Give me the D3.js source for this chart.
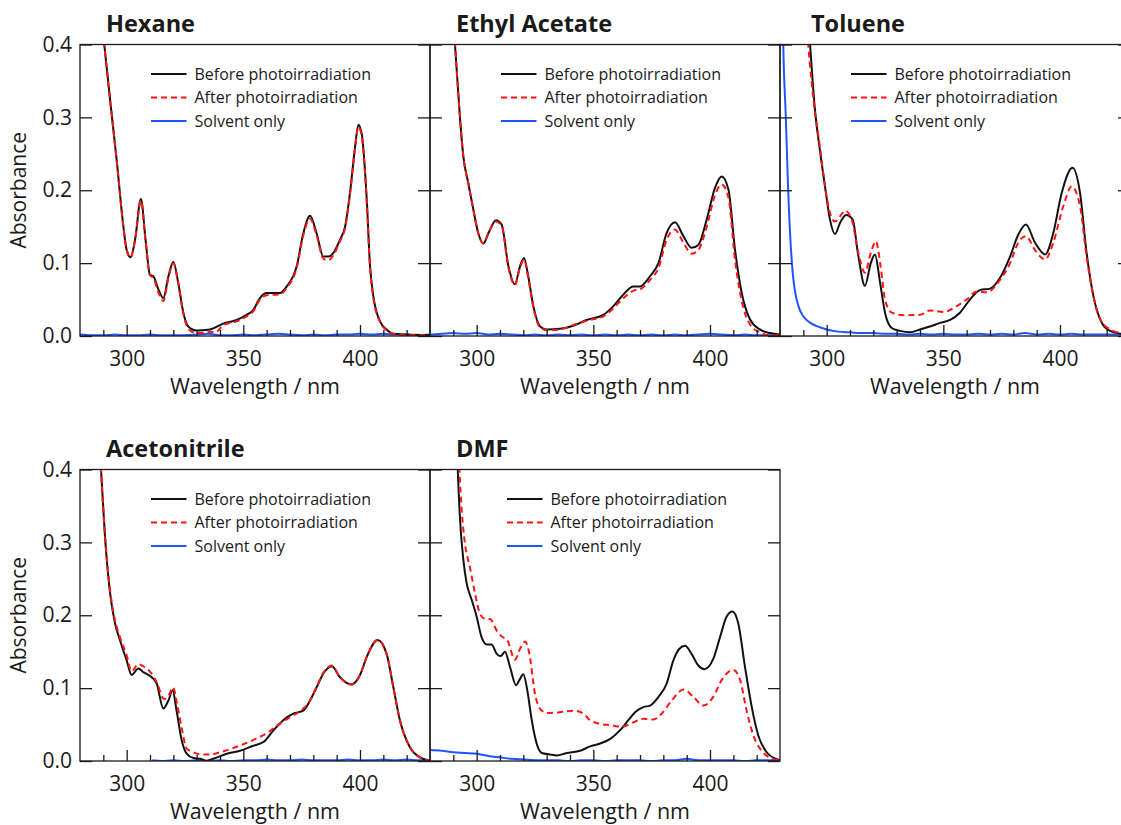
<!DOCTYPE html>
<html>
<head>
<meta charset="utf-8">
<script src="https://cdn.jsdelivr.net/npm/d3@7"></script>
<style>
  body { margin: 0; background: #fff; }
  text { font-family: "Open Sans", Lato, sans-serif; fill: #1a1a1a; }
</style>
</head>
<body>
<svg id="chart" width="1121" height="825"></svg>
<script>
// ---- data: [wavelength nm, absorbance] ----
var hexaneBefore = [[287,0.50],[290.4,0.40],[292.9,0.324],[295.7,0.242],[298.6,0.150],[300,0.118],[301.7,0.108],[303.6,0.132],[306.1,0.188],[308.1,0.132],[310,0.084],[311.4,0.082],[313.6,0.064],[315.7,0.052],[317.9,0.082],[320,0.102],[322.1,0.073],[324.3,0.032],[326.4,0.013],[330,0.0075],[335.7,0.009],[341.4,0.017],[347.1,0.022],[351.4,0.029],[354.3,0.036],[357.1,0.052],[360,0.059],[365.7,0.059],[368.6,0.068],[372.9,0.096],[375.7,0.141],[378.6,0.165],[381.4,0.141],[384.3,0.109],[386.4,0.109],[388.6,0.114],[391.4,0.132],[393.6,0.150],[395.7,0.196],[397.9,0.260],[399.3,0.290],[400.7,0.278],[402.9,0.187],[404.3,0.096],[405.7,0.055],[408.6,0.020],[411.4,0.009],[414.3,0.003],[420,0.002],[430,0.001]];
var hexaneAfter = [[287,0.50],[290.4,0.40],[292.9,0.324],[295.7,0.242],[298.6,0.150],[300,0.118],[301.7,0.108],[303.6,0.132],[306.1,0.186],[308.1,0.130],[310,0.083],[311.4,0.080],[313.6,0.060],[315.7,0.048],[317.9,0.080],[320,0.100],[322.1,0.072],[324.3,0.030],[326.4,0.010],[330,0.004],[333,0.004],[335.7,0.006],[338,0.005],[341.4,0.015],[347.1,0.020],[351.4,0.027],[354.3,0.034],[357.1,0.050],[360,0.056],[365.7,0.057],[368.6,0.066],[372.9,0.094],[375.7,0.138],[378.6,0.161],[381.4,0.138],[384.3,0.106],[386.4,0.104],[388.6,0.111],[391.4,0.130],[393.6,0.148],[395.7,0.194],[397.9,0.258],[399.3,0.287],[400.7,0.275],[402.9,0.184],[404.3,0.094],[405.7,0.053],[408.6,0.019],[411.4,0.008],[414.3,0.003],[420,0.001],[430,0.001]];
var hexaneSolvent = [[280,0.002],[285,0.001],[290,0.001],[295,0.002],[300,0.001],[305,0.001],[310,0.002],[315,0.001],[320,0.001],[325,0.001],[330,0.002],[335,0.003],[340,0.001],[345,0.001],[350,0.002],[355,0.001],[360,0.002],[365,0.003],[370,0.002],[375,0.001],[380,0.002],[385,0.001],[390,0.002],[395,0.002],[400,0.003],[405,0.002],[410,0.003],[415,0.002],[420,0.002],[425,0.001],[430,0.002]];

var ethylBefore = [[288,0.50],[290.7,0.40],[292.9,0.297],[294.3,0.246],[296.4,0.210],[298.6,0.173],[300.7,0.141],[302.9,0.127],[305,0.141],[308.3,0.159],[310.7,0.153],[313.6,0.096],[316.4,0.071],[318.6,0.096],[320.3,0.107],[322.1,0.082],[324.3,0.041],[327.1,0.0135],[330,0.009],[335.7,0.0098],[341.4,0.014],[347.1,0.022],[354.3,0.029],[358.6,0.041],[362.9,0.057],[367.1,0.068],[370,0.068],[374.3,0.082],[377.9,0.100],[381.4,0.141],[385,0.156],[388.6,0.137],[392.1,0.121],[395,0.125],[398.6,0.160],[402.1,0.203],[405,0.219],[407.9,0.201],[410.7,0.119],[413.6,0.059],[417.1,0.023],[421.4,0.009],[425.7,0.004],[430,0.002]];
var ethylAfter = [[288,0.50],[290.7,0.40],[292.9,0.297],[294.3,0.246],[296.4,0.210],[298.6,0.173],[300.7,0.141],[302.9,0.127],[305,0.141],[308.3,0.157],[310.7,0.151],[313.6,0.094],[316.4,0.070],[318.6,0.094],[320.3,0.105],[322.1,0.080],[324.3,0.039],[327.1,0.012],[330,0.008],[335.7,0.009],[341.4,0.015],[347.1,0.021],[354.3,0.027],[358.6,0.038],[362.9,0.052],[367.1,0.062],[370,0.064],[374.3,0.077],[377.9,0.093],[381.4,0.132],[385,0.146],[388.6,0.128],[392.1,0.113],[395,0.118],[398.6,0.150],[402.1,0.193],[405,0.208],[407.9,0.190],[410.7,0.105],[413.6,0.048],[417.1,0.016],[421.4,0.005],[425.7,0.001],[430,0.001]];
var ethylSolvent = [[280,0.002],[285,0.003],[290,0.004],[295,0.003],[300,0.004],[305,0.002],[310,0.003],[315,0.002],[320,0.001],[325,0.002],[330,0.001],[335,0.002],[340,0.001],[345,0.002],[350,0.001],[355,0.002],[360,0.001],[365,0.002],[370,0.001],[375,0.002],[380,0.001],[385,0.002],[390,0.001],[395,0.002],[400,0.003],[405,0.002],[410,0.001],[415,0.002],[420,0.001],[425,0.001],[430,0.001]];

var tolueneBefore = [[291,0.50],[292.9,0.40],[295,0.310],[297.1,0.255],[299.3,0.205],[301.4,0.160],[303.6,0.140],[305.7,0.155],[308.3,0.166],[311.1,0.160],[313.6,0.109],[316.4,0.069],[318.9,0.100],[320.7,0.112],[322.9,0.073],[325,0.032],[327.9,0.011],[331.4,0.007],[335.7,0.005],[340,0.009],[344.3,0.013],[348.6,0.018],[352.9,0.022],[357.1,0.032],[361.4,0.050],[365.7,0.063],[370,0.065],[374.3,0.080],[378.6,0.109],[382.1,0.139],[385.4,0.153],[389.3,0.128],[393.6,0.112],[397.1,0.141],[400.7,0.196],[405.4,0.231],[408.6,0.196],[411.4,0.114],[414.3,0.055],[417.9,0.018],[421.4,0.007],[426.1,0.003],[430,0.002]];
var tolueneAfter = [[290,0.50],[292.1,0.40],[294.5,0.32],[297.1,0.26],[299.3,0.205],[301.4,0.169],[303.6,0.157],[305.7,0.164],[307.9,0.172],[310.7,0.160],[313.6,0.114],[316.4,0.087],[318.9,0.114],[321.1,0.130],[323.1,0.096],[325,0.050],[327.9,0.032],[332.9,0.0285],[340,0.029],[344.3,0.035],[350,0.033],[355.7,0.041],[360,0.050],[364.3,0.061],[368.6,0.060],[374.3,0.077],[378.6,0.100],[382.1,0.128],[385.4,0.137],[389.3,0.118],[393.6,0.105],[397.1,0.128],[401.4,0.178],[405,0.205],[408.6,0.178],[411.4,0.109],[414.3,0.055],[418.6,0.016],[425.7,0.004],[430,0.002]];
var tolueneSolvent = [[280.5,0.60],[281.4,0.40],[282.5,0.30],[283.5,0.20],[284.5,0.13],[285.5,0.085],[286.5,0.060],[288,0.040],[290,0.027],[293,0.018],[297,0.012],[300,0.009],[305,0.006],[310,0.005],[315,0.004],[320,0.004],[325,0.003],[330,0.003],[335,0.002],[340,0.003],[345,0.002],[350,0.003],[355,0.002],[360,0.002],[365,0.003],[370,0.002],[375,0.003],[380,0.002],[385,0.004],[390,0.002],[395,0.003],[400,0.002],[405,0.003],[410,0.002],[415,0.002],[420,0.002],[425,0.002],[430,0.002]];

var acetoBefore = [[287.5,0.50],[289,0.40],[290.7,0.308],[292.9,0.230],[295,0.189],[297.1,0.166],[300,0.138],[302.1,0.118],[305,0.127],[307.1,0.122],[310.7,0.115],[312.9,0.106],[315.7,0.072],[317.9,0.083],[319.7,0.097],[321.4,0.069],[323.6,0.028],[325.7,0.010],[328.6,0.004],[331.4,0.003],[334.3,0.0005],[337.1,0.003],[342.9,0.010],[348.6,0.014],[354.3,0.021],[358.6,0.026],[362.9,0.042],[367.1,0.056],[371.4,0.065],[375.7,0.069],[378.6,0.083],[381.4,0.101],[384.3,0.120],[387.9,0.130],[391.4,0.115],[396.4,0.105],[400,0.118],[402.9,0.143],[407.6,0.166],[411.4,0.147],[414.3,0.101],[417.1,0.056],[421.4,0.019],[425.7,0.005],[429.3,0.001]];
var acetoAfter = [[287.5,0.50],[289,0.40],[290.7,0.310],[292.9,0.234],[295,0.193],[297.1,0.170],[300,0.145],[302.1,0.123],[305,0.133],[307.1,0.130],[310.7,0.120],[312.9,0.108],[316,0.085],[318,0.090],[319.9,0.101],[321.5,0.080],[323.6,0.045],[325.7,0.017],[328,0.013],[332,0.009],[336,0.009],[340,0.012],[345,0.017],[350,0.023],[355,0.030],[360,0.038],[365,0.050],[370,0.060],[375,0.070],[378.6,0.083],[381.4,0.102],[384.3,0.121],[387.9,0.131],[391.4,0.115],[396.4,0.105],[400,0.118],[402.9,0.143],[407.6,0.166],[411.4,0.147],[414.3,0.101],[417.1,0.056],[421.4,0.019],[425.7,0.005],[429.3,0.001]];
var acetoSolvent = [[311,0.001],[315,0.000],[320,0.001],[325,0.000],[330,0.001],[335,0.000],[340,0.001],[345,0.000],[350,0.001],[355,0.001],[360,0.002],[365,0.001],[370,0.001],[375,0.002],[380,0.001],[385,0.001],[390,0.001],[395,0.002],[400,0.001],[405,0.001],[410,0.002],[415,0.001],[420,0.002],[425,0.001],[430,0.001]];

var dmfBefore = [[291,0.50],[291.9,0.40],[292.9,0.330],[294.3,0.276],[295.7,0.244],[297.9,0.221],[300,0.198],[302.1,0.170],[304.3,0.160],[306.4,0.160],[308.6,0.147],[310.3,0.144],[312.1,0.150],[314.3,0.129],[316.9,0.104],[318.3,0.111],[320,0.119],[321.7,0.097],[323.6,0.056],[325.7,0.024],[327.9,0.011],[331.4,0.009],[334.3,0.0076],[338.6,0.011],[344.3,0.014],[348.6,0.020],[352.9,0.024],[357.1,0.030],[361.4,0.042],[365,0.056],[367.9,0.067],[371.4,0.074],[374.3,0.076],[377.9,0.088],[381.4,0.106],[384.3,0.138],[386.9,0.154],[389.3,0.158],[392.1,0.147],[395,0.131],[397.6,0.126],[401.4,0.140],[404.3,0.170],[407.1,0.198],[409.6,0.205],[412.1,0.189],[415,0.129],[417.9,0.074],[420.7,0.035],[424.3,0.012],[429.3,0.0016]];
var dmfAfter = [[291.5,0.50],[292.6,0.40],[293.6,0.344],[295,0.298],[297.1,0.266],[299.3,0.230],[301.4,0.202],[303.6,0.195],[305.7,0.195],[308.6,0.179],[310.7,0.171],[313.1,0.166],[316.4,0.139],[318.6,0.154],[320.7,0.164],[322.6,0.147],[325,0.092],[327.1,0.072],[330,0.066],[335.7,0.067],[341.4,0.069],[345.7,0.065],[348.6,0.056],[352.9,0.051],[357.9,0.049],[362.1,0.047],[367.1,0.053],[371.4,0.058],[375.7,0.057],[379.3,0.065],[383.6,0.083],[388.6,0.098],[392.9,0.088],[397.1,0.076],[401.4,0.088],[405,0.111],[410,0.125],[412.9,0.111],[415.7,0.069],[418.6,0.035],[422.1,0.014],[427.1,0.003],[429.7,0.001]];
var dmfSolvent = [[280,0.015],[285,0.014],[290,0.012],[295,0.011],[300,0.010],[305,0.007],[310,0.005],[315,0.003],[320,0.002],[325,0.001],[330,0.001],[335,0.001],[340,0.000],[345,0.001],[350,0.001],[355,0.000],[360,0.001],[365,0.001],[370,0.001],[375,0.000],[380,0.001],[385,0.001],[390,0.003],[395,0.001],[400,0.001],[405,0.001],[410,0.001],[415,0.000],[420,0.001],[425,0.001],[430,0.002]];

var panelTitles = ["Hexane", "Ethyl Acetate", "Toluene", "Acetonitrile", "DMF"];
var legendLabels = ["Before photoirradiation", "After photoirradiation", "Solvent only"];
var yTicks = [0, 0.1, 0.2, 0.3, 0.4];
var xMajor = [300, 350, 400];
var xMinor = [290, 310, 320, 330, 340, 360, 370, 380, 390, 410, 420];

// ---- layout ----
var svg = d3.select("#chart");
var pw = 350, ph = 291.5;

var panels = [
  {title: panelTitles[0], left: 80,  top: 44.5,  series: [hexaneSolvent, hexaneBefore, hexaneAfter], yLab: true,  tdx: 26, ldx: 71},
  {title: panelTitles[1], left: 430, top: 44.5,  series: [ethylSolvent, ethylBefore, ethylAfter],    yLab: false, tdx: 26, ldx: 71},
  {title: panelTitles[2], left: 780, top: 44.5,  series: [tolueneSolvent, tolueneBefore, tolueneAfter], yLab: false, tdx: 31, ldx: 71},
  {title: panelTitles[3], left: 80,  top: 469.5, series: [acetoSolvent, acetoBefore, acetoAfter],    yLab: true,  tdx: 26, ldx: 71},
  {title: panelTitles[4], left: 430, top: 469.5, series: [dmfSolvent, dmfBefore, dmfAfter],          yLab: false, tdx: 26, ldx: 77}
];

var styles = [
  {color: "#1f55ff", dash: null},
  {color: "#111111", dash: null},
  {color: "#ff1414", dash: "6,4"}
];
var legendOrder = [1, 2, 0];

var x = d3.scaleLinear().domain([280, 430]).range([0, pw]);
var y = d3.scaleLinear().domain([0, 0.4]).range([ph, 0]);

var line = d3.line()
  .x(function(d) { return x(d[0]); })
  .y(function(d) { return y(d[1]); })
  .curve(d3.curveMonotoneX);

panels.forEach(function(p, i) {
  var g = svg.append("g").attr("transform", "translate(" + p.left + "," + p.top + ")");

  g.append("clipPath").attr("id", "clip" + i)
    .append("rect").attr("width", pw).attr("height", ph);

  var plot = g.append("g").attr("clip-path", "url(#clip" + i + ")");
  p.series.forEach(function(s, k) {
    plot.append("path")
      .datum(s)
      .attr("d", line)
      .attr("fill", "none")
      .attr("stroke", styles[k].color)
      .attr("stroke-width", 2)
      .attr("stroke-dasharray", styles[k].dash);
  });

  // bottom axis: majors with labels, minors without
  g.append("g").attr("transform", "translate(0," + ph + ")")
    .call(d3.axisBottom(x).tickValues(xMajor).tickSize(-11).tickSizeOuter(0).tickPadding(15.5));
  g.append("g").attr("transform", "translate(0," + ph + ")")
    .call(d3.axisBottom(x).tickValues(xMinor).tickSize(-6).tickSizeOuter(0).tickFormat(""));

  // left and right axes
  g.append("g")
    .call(d3.axisLeft(y).tickValues(yTicks).tickSize(-12).tickSizeOuter(0)
      .tickPadding(8).tickFormat(p.yLab ? d3.format(".1f") : ""));
  g.append("g").attr("transform", "translate(" + pw + ",0)")
    .call(d3.axisRight(y).tickValues(yTicks).tickSize(-12).tickSizeOuter(0).tickFormat(""));

  g.selectAll(".domain").remove();
  g.selectAll(".tick line").attr("stroke", "#1a1a1a").attr("stroke-width", 1.3);
  g.selectAll(".tick text").style("font-size", "21px").attr("fill", "#1a1a1a");

  g.append("rect")
    .attr("width", pw).attr("height", ph)
    .attr("fill", "none").attr("stroke", "#1a1a1a").attr("stroke-width", 1.3);

  g.append("text")
    .attr("x", p.tdx).attr("y", -12.5)
    .style("font-size", "23.5px").style("font-weight", "bold").attr("fill", "#000")
    .text(p.title);

  g.append("text")
    .attr("x", pw / 2).attr("y", ph + 58)
    .attr("text-anchor", "middle").style("font-size", "21.5px")
    .text("Wavelength / nm");

  if (p.yLab) {
    g.append("text")
      .attr("transform", "translate(" + (-54) + "," + (ph / 2) + ") rotate(-90)")
      .attr("text-anchor", "middle").style("font-size", "21px")
      .text("Absorbance");
  }

  // legend
  legendLabels.forEach(function(lab, r) {
    var st = styles[legendOrder[r]];
    var ly = 29.5 + r * 23.5;
    g.append("line")
      .attr("x1", p.ldx).attr("x2", p.ldx + 35.5)
      .attr("y1", ly).attr("y2", ly)
      .attr("stroke", st.color).attr("stroke-width", 2)
      .attr("stroke-dasharray", st.dash);
    g.append("text")
      .attr("x", p.ldx + 43.5).attr("y", ly)
      .attr("dy", "0.35em").style("font-size", "16px")
      .text(lab);
  });
});
</script>
</body>
</html>
